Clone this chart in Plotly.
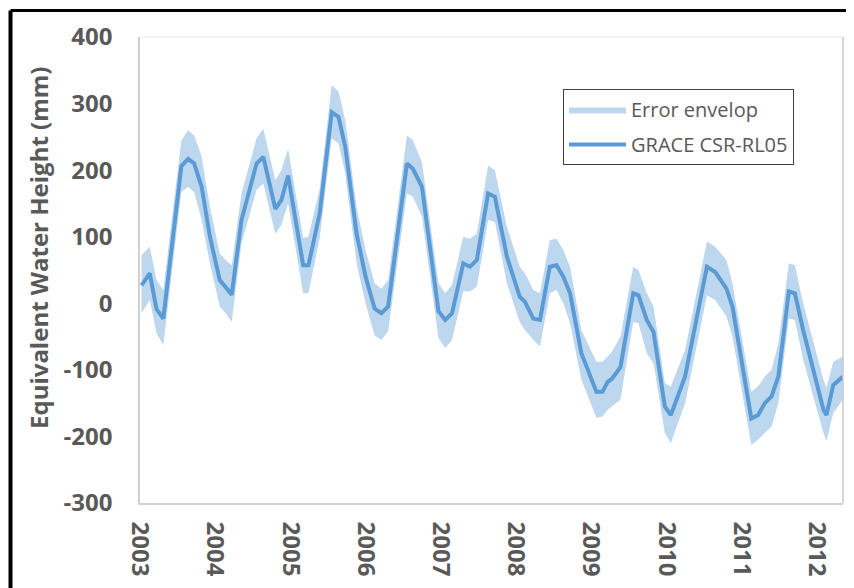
import plotly.graph_objects as go

# decimal-year time stamps of GRACE solutions
dates = [2003.02, 2003.13, 2003.22, 2003.31, 2003.55, 2003.64, 2003.72, 2003.82, 2003.93,
         2004.06, 2004.14, 2004.22, 2004.35, 2004.55, 2004.64, 2004.80, 2004.88, 2004.97,
         2005.17, 2005.24, 2005.39, 2005.55, 2005.64, 2005.73, 2005.88, 2006.00,
         2006.12, 2006.21, 2006.30, 2006.55, 2006.63, 2006.75, 2006.97,
         2007.06, 2007.15, 2007.30, 2007.39, 2007.48, 2007.63, 2007.72, 2007.88,
         2008.05, 2008.12, 2008.23, 2008.32, 2008.45, 2008.54, 2008.63, 2008.72, 2008.87,
         2009.07, 2009.15, 2009.22, 2009.28, 2009.39, 2009.56, 2009.63, 2009.74, 2009.83, 2009.98,
         2010.06, 2010.25, 2010.54, 2010.65, 2010.80, 2010.88,
         2011.13, 2011.22, 2011.31, 2011.40, 2011.49, 2011.63, 2011.71, 2011.82,
         2012.09, 2012.13, 2012.22, 2012.35]

# GRACE CSR-RL05 equivalent water height (mm)
grace_ewh = [27, 45, -9, -23, 206, 217, 210, 175, 100,
             35, 24, 13, 125, 210, 220, 142, 155, 192,
             57, 57, 135, 287, 280, 235, 105, 40,
             -8, -15, -5, 210, 202, 175, -12,
             -25, -15, 60, 55, 65, 165, 160, 70,
             10, 2, -23, -25, 55, 57, 40, 15, -75,
             -133, -133, -118, -113, -96, 15, 12, -25, -43, -155,
             -168, -110, 55, 47, 22, -5,
             -173, -168, -150, -140, -110, 18, 15, -40,
             -160, -168, -123, -110]

# error envelope bounds (mm)
env_upper = [72, 85, 35, 20, 245, 260, 252, 220, 145,
             75, 65, 57, 165, 248, 262, 185, 200, 232,
             98, 100, 172, 328, 318, 275, 145, 80,
             30, 22, 35, 252, 245, 212, 30,
             15, 28, 100, 97, 105, 207, 200, 115,
             55, 45, 20, 15, 95, 97, 80, 55, -40,
             -88, -88, -80, -72, -50, 55, 50, 15, -5, -120,
             -125, -70, 93, 85, 65, 30,
             -133, -125, -110, -100, -60, 60, 57, 0,
             -115, -127, -88, -80]
env_lower = [-15, 5, -45, -63, 167, 175, 167, 125, 60,
             -5, -15, -28, 90, 170, 180, 104, 118, 150,
             15, 15, 98, 248, 240, 195, 60, 0,
             -48, -55, -42, 165, 160, 130, -52,
             -67, -55, 18, 18, 25, 125, 122, 30,
             -28, -40, -55, -65, 15, 20, 0, -30, -115,
             -172, -170, -160, -155, -145, -28, -30, -75, -90, -195,
             -210, -150, 12, 5, -20, -50,
             -213, -205, -195, -185, -150, -23, -25, -85,
             -195, -207, -165, -145]

year_ticks = [2003, 2004, 2005, 2006, 2007, 2008, 2009, 2010, 2011, 2012]
year_labels = [str(y) for y in year_ticks]
y_ticks = [-300, -200, -100, 0, 100, 200, 300, 400]
y_labels = ["-300", "-200", "-100", "0", "100", "200", "300", "400"]

line_color = "#5B9BD5"
fill_color = "#BDD7EE"
text_color = "#595959"

# page body adds an 8px offset; target plot area in window pixels: x 140-843, y 37-503
OFF = 8
PL, PR, PT, PB = 140, 843, 37, 503
W, H = 854 - OFF, 588 - OFF
PW, PH = PR - PL, PB - PT


def px(x):
    return (x - PL) / PW


def py(y):
    return (PB - y) / PH


fig = go.Figure()
fig.add_trace(go.Scatter(x=dates, y=env_upper, mode="lines", line=dict(width=0, color=fill_color),
                         showlegend=False, hoverinfo="skip"))
fig.add_trace(go.Scatter(x=dates, y=env_lower, mode="lines", line=dict(width=0, color=fill_color),
                         fill="tonexty", fillcolor=fill_color, name="Error envelop",
                         legendgroup="a"))
fig.add_trace(go.Scatter(x=dates, y=grace_ewh, mode="lines", line=dict(width=4, color=line_color),
                         name="GRACE CSR-RL05", legendgroup="b"))

# outer black frame (left and top)
fx = px(10.5)
fy = py(10.5)
fig.add_shape(type="line", xref="paper", yref="paper", x0=fx, x1=fx, y0=-0.3, y1=fy,
              line=dict(color="black", width=4))
fig.add_shape(type="line", xref="paper", yref="paper", x0=fx, x1=1.1, y0=fy, y1=fy,
              line=dict(color="black", width=3))
# plot area frame
fig.add_shape(type="line", xref="paper", yref="paper", x0=0, x1=1, y0=1, y1=1,
              line=dict(color="#EEF2F6", width=1.5))
fig.add_shape(type="line", xref="paper", yref="paper", x0=1, x1=1, y0=0, y1=1,
              line=dict(color="#C8C8C8", width=1.5))

fig.add_annotation(text="Equivalent Water Height (mm)", xref="paper", yref="paper",
                   x=px(38), y=py(248), xanchor="center", yanchor="middle",
                   textangle=-90, showarrow=False,
                   font=dict(family="Open Sans", size=24, color=text_color, weight="bold"))

fig.update_layout(
    width=W, height=H,
    margin=dict(l=PL - OFF, r=W - (PR - OFF), t=PT - OFF, b=H - (PB - OFF), autoexpand=False),
    paper_bgcolor="white", plot_bgcolor="white",
    font=dict(family="Open Sans", color=text_color),
    legend=dict(x=px(563), y=py(89), xanchor="left", yanchor="top",
                bordercolor="#404040", borderwidth=1, bgcolor="white",
                font=dict(family="Open Sans", size=20, color=text_color),
                tracegroupgap=6, traceorder="grouped", itemwidth=57),
)
fig.update_xaxes(range=[2003, 2012.35], tickvals=year_ticks, ticktext=year_labels,
                 tickangle=90, showgrid=False, zeroline=False, showline=True,
                 linecolor="#D0D0D0", linewidth=1.5, ticks="", ticklabelstandoff=12,
                 tickfont=dict(family="Open Sans", size=24, color=text_color, weight="bold"))
fig.update_yaxes(range=[-300, 400], tickvals=y_ticks, ticktext=y_labels,
                 showgrid=False, zeroline=False, showline=True,
                 linecolor="#D0D0D0", linewidth=1.5, ticks="", ticklabelstandoff=21,
                 tickfont=dict(family="Open Sans", size=24, color=text_color, weight="bold"))

fig.write_html("out.html")
